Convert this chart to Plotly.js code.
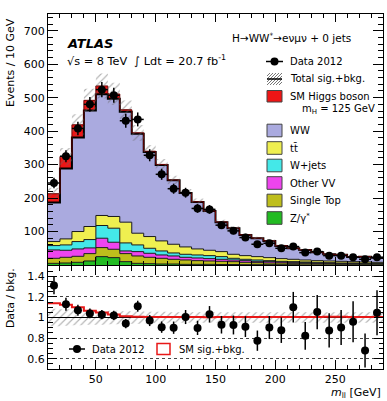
<!DOCTYPE html>
<html>
<head>
<meta charset="utf-8">
<script src="https://cdn.plot.ly/plotly-3.0.1.min.js"></script>
<style>
  html, body { margin: 0; padding: 0; background: #fff; }
  #plot { width: 387px; height: 401px; }
</style>
</head>
<body>
<div id="plot"></div>
<script>
// m_ll bin centres (10 GeV bins)
const mllCenters = [15, 25, 35, 45, 55, 65, 75, 85, 95, 105, 115, 125, 135, 145,
                    155, 165, 175, 185, 195, 205, 215, 225, 235, 245, 255, 265, 275, 285];

// observed events
const data2012 = [245, 325, 408, 480, 524, 507, 431, 435, 328, 271, 228, 216, 169, 166,
                  119, 102, 82, 62, 65, 50, 55, 37, 40, 28, 28, 23, 17, 23];

// expected contributions per bin
const higgs = [26, 36, 38, 30, 25, 14, 6, 3, 2, 1.5, 1, 1, 1, 0.5,
               0.5, 0.5, 0.4, 0.4, 0.3, 0.3, 0.3, 0.2, 0.2, 0.2, 0.2, 0.1, 0.1, 0.1];
const ww = [117, 210, 281, 347, 362, 352, 330, 297, 253, 227, 191, 161, 140, 117,
            88, 78, 62, 55, 50, 38, 33, 30, 25, 20, 20, 14, 16, 14];
const ttbar = [12, 18, 30, 39, 30, 35, 62, 35, 35, 30, 26, 22, 18, 16,
               15, 12, 11, 10, 9, 8, 7, 6, 5, 5, 5, 4, 4, 3];
const wjets = [13, 16, 22, 25, 38, 42, 24, 20, 15, 12, 9, 9, 9, 9,
               8, 5, 4, 4, 3, 2, 2, 2, 2, 1, 1, 1, 1, 1];
const otherVV = [25, 21, 22, 17, 28, 21, 8, 13, 12, 10, 10, 8, 8, 7,
                 6, 5, 5, 4, 4, 3, 3, 2, 2, 2, 2, 2, 1, 1];
const singleTop = [15, 17, 18, 22, 27, 25, 24, 22, 19, 17, 14, 13, 11, 10,
                   9.5, 8.5, 7, 6, 5, 5, 4, 4.5, 3.5, 3.5, 2.5, 2.5, 2.5, 2.5];
const zgamma = [5, 6, 8, 12, 25, 22, 10, 5, 4, 3, 3, 2, 2, 2,
                1.5, 1.5, 1, 1, 1, 1, 1, 0.5, 0.5, 0.5, 0.5, 0.5, 0.5, 0.5];

// relative systematic uncertainty on the prediction
const relUnc = [0.085, 0.08, 0.075, 0.07, 0.07, 0.065, 0.06, 0.06, 0.055, 0.055, 0.05, 0.05, 0.05, 0.05,
                0.05, 0.05, 0.05, 0.05, 0.05, 0.05, 0.05, 0.05, 0.05, 0.05, 0.05, 0.05, 0.05, 0.05];

const xTicks = [50, 100, 150, 200, 250];
const yTicksMain = [100, 200, 300, 400, 500, 600, 700];
const yTicksRatio = [0.6, 0.8, 1, 1.2, 1.4];
const yTickTextRatio = ['0.6', '0.8', '1', '1.2', '1.4'];

// ---------- derived quantities ----------
const halfBin = 5;
const edges = mllCenters.map(c => c - halfBin).concat([mllCenters[mllCenters.length - 1] + halfBin]);
const step = arr => arr.concat([arr[arr.length - 1]]);
const addArr = (a, b) => a.map((v, i) => v + b[i]);

const cumZ = zgamma.slice();
const cumST = addArr(cumZ, singleTop);
const cumVV = addArr(cumST, otherVV);
const cumWj = addArr(cumVV, wjets);
const cumTT = addArr(cumWj, ttbar);
const cumBkg = addArr(cumTT, ww);
const cumTot = addArr(cumBkg, higgs);

const ratio = data2012.map((d, i) => d / cumBkg[i]);
const ratioErr = data2012.map((d, i) => Math.sqrt(d) / cumBkg[i]);
const sigRatio = cumTot.map((t, i) => t / cumBkg[i]);

const FONT = 'DejaVu Sans, Liberation Sans, Arial, sans-serif';
const EDGE = '#1a1a1a';

function stackTrace(yvals, fillcolor, fillMode, lineWidth, lineColor) {
  return {
    x: edges, y: step(yvals), xaxis: 'x2', yaxis: 'y2',
    type: 'scatter', mode: 'lines',
    line: { shape: 'hv', color: lineColor || EDGE, width: lineWidth || 1 },
    fill: fillMode, fillcolor: fillcolor,
    hoverinfo: 'skip', showlegend: false
  };
}

const hatch = { shape: '/', fgcolor: '#666', bgcolor: 'rgba(0,0,0,0)', size: 5, solidity: 0.22, fillmode: 'overlay' };

const traces = [
  stackTrace(cumZ, '#22bb22', 'tozeroy'),
  stackTrace(cumST, '#bebe1c', 'tonexty'),
  stackTrace(cumVV, '#ee44ee', 'tonexty'),
  stackTrace(cumWj, '#44e8e8', 'tonexty'),
  stackTrace(cumTT, '#efef50', 'tonexty'),
  stackTrace(cumBkg, '#aaaadf', 'tonexty', 2, '#000'),
  stackTrace(cumTot, '#ee1515', 'tonexty', 1, '#6a0000'),
  // uncertainty band on total sig.+bkg.
  {
    x: edges, y: step(cumTot.map((t, i) => t * (1 - relUnc[i]))), xaxis: 'x2', yaxis: 'y2',
    type: 'scatter', mode: 'lines', line: { shape: 'hv', width: 0 },
    hoverinfo: 'skip', showlegend: false
  },
  {
    x: edges, y: step(cumTot.map((t, i) => t * (1 + relUnc[i]))), xaxis: 'x2', yaxis: 'y2',
    type: 'scatter', mode: 'lines', line: { shape: 'hv', width: 0 },
    fill: 'tonexty', fillcolor: 'rgba(0,0,0,0)', fillpattern: hatch,
    hoverinfo: 'skip', showlegend: false
  },
  // data
  {
    x: mllCenters, y: data2012, xaxis: 'x2', yaxis: 'y2',
    type: 'scatter', mode: 'markers',
    marker: { color: '#000', size: 8 },
    error_y: { type: 'data', array: data2012.map(Math.sqrt), color: '#000', thickness: 1.5, width: 0 },
    error_x: { type: 'data', array: mllCenters.map(() => halfBin), color: '#000', thickness: 1.5, width: 0 },
    hoverinfo: 'skip', showlegend: false
  },
  // ratio panel: uncertainty band
  {
    x: edges, y: step(relUnc.map(u => 1 - u)), xaxis: 'x', yaxis: 'y',
    type: 'scatter', mode: 'lines', line: { shape: 'hv', width: 0 },
    hoverinfo: 'skip', showlegend: false
  },
  {
    x: edges, y: step(relUnc.map(u => 1 + u)), xaxis: 'x', yaxis: 'y',
    type: 'scatter', mode: 'lines', line: { shape: 'hv', width: 0 },
    fill: 'tonexty', fillcolor: 'rgba(0,0,0,0)', fillpattern: hatch,
    hoverinfo: 'skip', showlegend: false
  },
  // unity line
  {
    x: [edges[0], edges[edges.length - 1]], y: [1, 1], xaxis: 'x', yaxis: 'y',
    type: 'scatter', mode: 'lines', line: { color: '#000', width: 1 },
    hoverinfo: 'skip', showlegend: false
  },
  // (sig+bkg)/bkg
  {
    x: edges, y: step(sigRatio), xaxis: 'x', yaxis: 'y',
    type: 'scatter', mode: 'lines', line: { shape: 'hv', color: '#e81818', width: 2 },
    hoverinfo: 'skip', showlegend: false
  },
  // data / bkg
  {
    x: mllCenters, y: ratio, xaxis: 'x', yaxis: 'y',
    type: 'scatter', mode: 'markers',
    marker: { color: '#000', size: 8 },
    error_y: { type: 'data', array: ratioErr, color: '#000', thickness: 1.5, width: 0 },
    hoverinfo: 'skip', showlegend: false
  }
];

// ---------- page geometry (pixels -> paper) ----------
const M = { l: 48, r: 4, t: 14, b: 32 };
const PW = 387 - M.l - M.r, PH = 401 - M.t - M.b;
const fx = p => (p - M.l) / PW;
const fy = p => (M.t + PH - p) / PH;

const shapes = [];
const annotations = [];

function text(str, x, y, size, opts) {
  annotations.push(Object.assign({
    xref: 'paper', yref: 'paper', x: fx(x), y: fy(y), text: str, showarrow: false,
    xanchor: 'left', yanchor: 'middle', font: { family: FONT, size: size, color: '#000' }
  }, opts || {}));
}
function box(x0, y0, x1, y1, fill, line, lw) {
  shapes.push({
    type: 'rect', xref: 'paper', yref: 'paper', x0: fx(x0), x1: fx(x1), y0: fy(y1), y1: fy(y0),
    fillcolor: fill, line: { color: line, width: lw === undefined ? 1 : lw }, layer: 'above'
  });
}
function seg(x0, y0, x1, y1, color, w) {
  shapes.push({
    type: 'line', xref: 'paper', yref: 'paper', x0: fx(x0), x1: fx(x1), y0: fy(y0), y1: fy(y1),
    line: { color: color, width: w }, layer: 'above'
  });
}
function dot(cx, cy, r) {
  shapes.push({
    type: 'circle', xref: 'paper', yref: 'paper', x0: fx(cx - r), x1: fx(cx + r), y0: fy(cy + r), y1: fy(cy - r),
    fillcolor: '#000', line: { color: '#000', width: 0 }, layer: 'above'
  });
}
function hatchBox(x0, y0, x1, y1, spacing) {
  const w = x1 - x0, h = y1 - y0;
  for (let c = -h; c < w; c += spacing) {
    const t0 = Math.max(0, -c), t1 = Math.min(h, w - c);
    if (t1 <= t0) continue;
    seg(x0 + c + t0, y1 - t0, x0 + c + t1, y1 - t1, '#777', 1);
  }
}

// main legend
const LX0 = 267, LX1 = 282, TX = 288, LS = 10;
dot(274.5, 61.5, 4); seg(266, 61.5, 283, 61.5, '#000', 1.5);
text('Data 2012', TX, 61.5, LS);
hatchBox(LX0, 73, LX1, 85, 3); seg(LX0, 79, LX1, 79, '#000', 1.5);
text('Total sig.+bkg.', TX, 79, LS);
box(LX0, 90.5, LX1, 102, '#ee1515', '#444');
text('SM Higgs boson', TX, 96, LS);
text('m<sub>H</sub> = 125 GeV', 300, 109.5, LS);
const legendRows = [
  ['WW', '#aaaadf', 130.5],
  ['t<span>t&#772;</span>', '#efef50', 148],
  ['W+jets', '#44e8e8', 165.5],
  ['Other VV', '#ee44ee', 183],
  ['Single Top', '#bebe1c', 200.5],
  ['Z/&#947;<sup>*</sup>', '#22bb22', 218]
];
legendRows.forEach(([lab, col, yc]) => {
  box(LX0, yc - 6.3, LX1, yc + 6.3, col, '#444');
  text(lab, TX, yc, LS);
});

// ratio legend
dot(77, 349, 4); seg(69, 349, 85, 349, '#000', 1.5);
text('Data 2012', 90, 349, LS);
box(157, 343.5, 170, 354.5, 'rgba(0,0,0,0)', '#e81818', 1.5);
text('SM sig.+bkg.', 177, 349, LS);

// labels
text('<b><i>ATLAS</i></b>', 65, 43, 13);
text('&#8730;s = 8 TeV &nbsp;&#8747; Ldt = 20.7 fb<sup>-1</sup>', 65, 60.5, 11.3);
text('H&#8594;WW<sup>*</sup>&#8594;e&#957;&#956;&#957; + 0 jets', 230, 37.5, 10.5);

// axis titles
text('Events / 10 GeV', 10, 63, 11, { textangle: -90, xanchor: 'center', yanchor: 'middle' });
text('Data / bkg.', 10, 298, 10.8, { textangle: -90, xanchor: 'center', yanchor: 'middle' });
text('<i>m</i><sub>ll</sub> [GeV]', 383, 393, 11, { xanchor: 'right' });

const axisCommon = {
  showline: true, linecolor: '#000', linewidth: 1, mirror: 'allticks',
  ticks: 'inside', tickcolor: '#000', tickwidth: 1,
  zeroline: false, showgrid: false,
  tickfont: { family: FONT, size: 11, color: '#000' }
};

const mainBottom = 265, ratioTop = 266;
const layout = {
  width: 387, height: 401,
  margin: M,
  paper_bgcolor: '#fff', plot_bgcolor: '#fff',
  showlegend: false,
  font: { family: FONT, color: '#000' },
  xaxis: Object.assign({}, axisCommon, {
    domain: [0, 1], anchor: 'y', range: [edges[0], edges[edges.length - 1]],
    tickmode: 'array', tickvals: xTicks, ticklen: 9,
    minor: { tickmode: 'linear', tick0: 0, dtick: 10, ticks: 'inside', ticklen: 4.5, tickcolor: '#000' }
  }),
  yaxis: Object.assign({}, axisCommon, {
    domain: [0, fy(ratioTop)], anchor: 'x', range: [0.5, 1.5],
    tickmode: 'array', tickvals: yTicksRatio, ticktext: yTickTextRatio, ticklen: 9,
    showgrid: true, gridcolor: '#444', griddash: 'dot', gridwidth: 1,
    minor: { tickmode: 'linear', tick0: 0.5, dtick: 0.05, ticks: 'inside', ticklen: 4.5, tickcolor: '#000', showgrid: false }
  }),
  xaxis2: Object.assign({}, axisCommon, {
    domain: [0, 1], anchor: 'y2', matches: 'x', showticklabels: false,
    tickmode: 'array', tickvals: xTicks, ticklen: 8,
    minor: { tickmode: 'linear', tick0: 0, dtick: 10, ticks: 'inside', ticklen: 4, tickcolor: '#000' }
  }),
  yaxis2: Object.assign({}, axisCommon, {
    domain: [fy(mainBottom), 1], anchor: 'x2', range: [0, 750],
    tickmode: 'array', tickvals: yTicksMain, ticklen: 10,
    minor: { tickmode: 'linear', tick0: 0, dtick: 20, ticks: 'inside', ticklen: 5, tickcolor: '#000' }
  }),
  shapes: shapes,
  annotations: annotations
};

Plotly.newPlot('plot', traces, layout, { staticPlot: true, displayModeBar: false });
</script>
</body>
</html>
